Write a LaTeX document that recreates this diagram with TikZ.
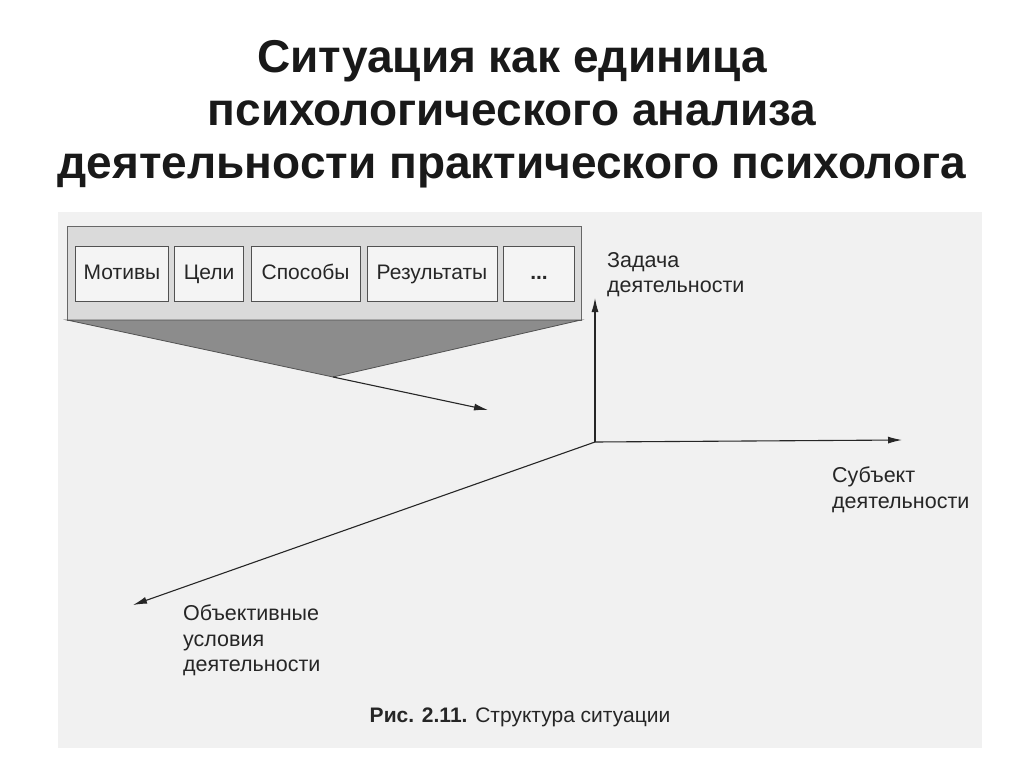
\documentclass[tikz,border=0pt]{standalone}
\usepackage{fontspec}
\setmainfont{Liberation Sans}
\usetikzlibrary{arrows.meta}
\definecolor{ink}{HTML}{262626}
\definecolor{scan}{HTML}{F1F1F1}
\definecolor{barfill}{HTML}{DADADA}
\definecolor{boxfill}{HTML}{F4F4F4}
\definecolor{trifill}{HTML}{8C8C8C}
\tikzset{
  item/.style={draw=ink!80, line width=0.9pt, fill=boxfill, minimum height=55pt, inner sep=0pt, text=ink, text height=14pt, text depth=4pt, font=\fontsize{21}{24}\selectfont},
  lbl/.style={text=ink, align=left, anchor=north west, inner sep=0pt, font=\fontsize{21.5}{25.5}\selectfont},
  axis/.style={draw=ink, line width=1.1pt, -{Latex[length=14pt,width=7pt]}},
  ttl/.style={text=black!90, align=center, font=\fontsize{46}{53}\selectfont\bfseries}
}
\begin{document}
\begin{tikzpicture}[x=1pt,y=-1pt]
\useasboundingbox (0,0) rectangle (1024,767);
\fill[white] (0,0) rectangle (1024,767);
\fill[scan] (58,212) rectangle (982,748);
% title
\node[ttl] (title) at (512,114) {Ситуация как единица\\психологического анализа\\деятельности практического психолога};
% bar
\node[draw=ink!70, line width=0.9pt, fill=barfill, minimum width=514pt, minimum height=94pt, inner sep=0pt] (bar) at (324,273) {};
\fill[trifill, draw=ink!80, line width=0.8pt] (67,320) -- (581,320) -- (333,377) -- cycle;
\node[item, minimum width=93pt] (m) at (122,274) {Мотивы};
\node[item, minimum width=69pt] (c) at (209,274) {Цели};
\node[item, minimum width=109pt] (s) at (305.5,274) {Способы};
\node[item, minimum width=130pt] (r) at (432,274) {Результаты};
\node[item, minimum width=71pt] (d) at (539,274) {\textbf{...}};
% apex arrow
\coordinate (apex) at (333,377);
\coordinate (apexend) at (488,410);
\draw[axis] (apex) -- (apexend);
% axes
\coordinate (O) at (595,442);
\coordinate (up) at (595,298);
\coordinate (right) at (902,440);
\coordinate (dl) at (133,605);
\draw[axis] (O) -- (up);
\draw[axis] (O) -- (right);
\draw[axis] (O) -- (dl);
% labels
\node[lbl] (zad) at (607,252) {Задача\\деятельности};
\node[lbl] (sub) at (832,467) {Субъект\\деятельности};
\node[lbl] (obj) at (183,605) {Объективные\\условия\\деятельности};
\node[text=ink, inner sep=0pt, font=\fontsize{21}{24}\selectfont] (cap) at (520,717) {\textbf{Рис. 2.11.} Структура ситуации};
\end{tikzpicture}
\end{document}
